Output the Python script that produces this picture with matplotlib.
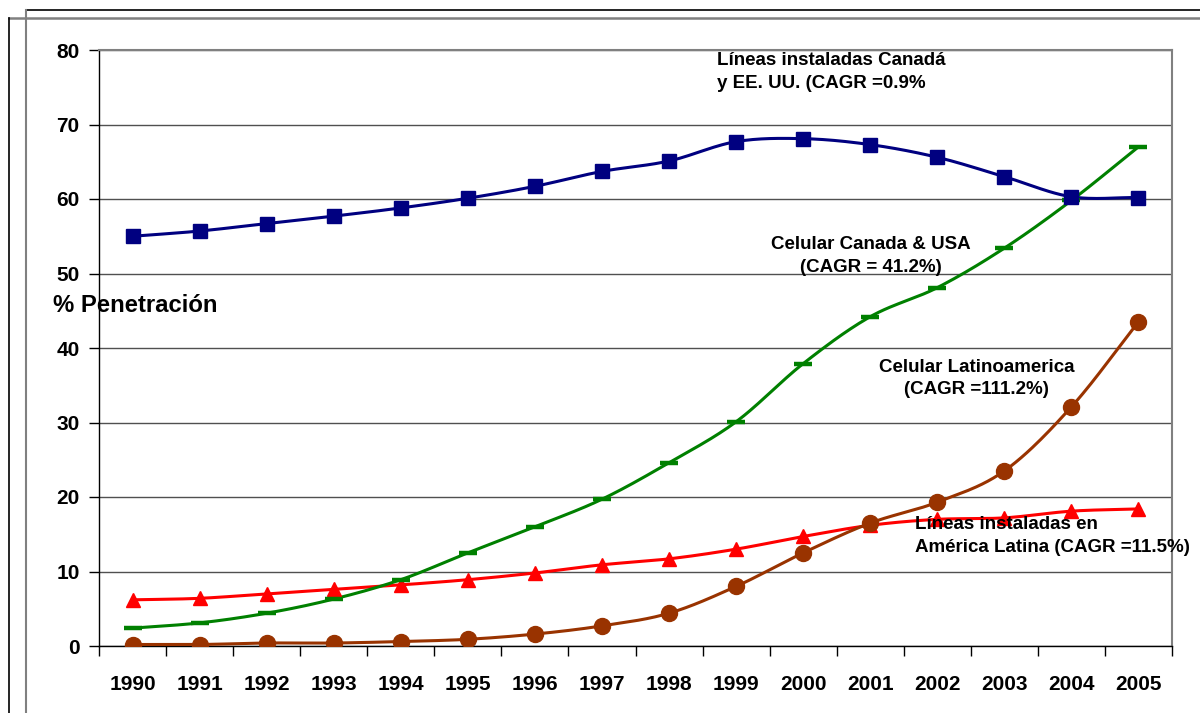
import matplotlib
matplotlib.use("Agg")
import matplotlib.pyplot as plt
import numpy as np
from matplotlib.lines import Line2D

plt.rcParams['font.family'] = ['Liberation Sans', 'DejaVu Sans']
plt.rcParams['font.weight'] = 'bold'

years = [str(y) for y in range(1990, 2006)]

# penetration, %
lineas_can_usa = [55.0, 55.7, 56.7, 57.7, 58.8, 60.1, 61.7, 63.7, 65.1, 67.7,
                  68.1, 67.3, 65.6, 63.0, 60.3, 60.2]
celular_can_usa = [2.4, 3.1, 4.4, 6.3, 8.9, 12.5, 16.0, 19.7, 24.6, 30.1,
                   37.9, 44.2, 48.1, 53.4, 59.8, 67.0]
celular_latam = [0.2, 0.2, 0.4, 0.4, 0.6, 0.9, 1.6, 2.7, 4.4, 8.0,
                 12.5, 16.5, 19.3, 23.5, 32.1, 43.5]
lineas_latam = [6.2, 6.4, 7.0, 7.6, 8.2, 8.9, 9.8, 10.9, 11.7, 13.0,
                14.7, 16.2, 17.0, 17.2, 18.1, 18.4]


def smooth(y, n=24):
    # Catmull-Rom curve through the points, like Excel's smoothed line
    y = np.asarray(y, dtype=float)
    x = np.arange(len(y), dtype=float)
    p = np.concatenate([[2 * y[0] - y[1]], y, [2 * y[-1] - y[-2]]])
    xs, ys = [], []
    t = np.linspace(0, 1, n, endpoint=False)
    for i in range(len(y) - 1):
        p0, p1, p2, p3 = p[i], p[i + 1], p[i + 2], p[i + 3]
        seg = 0.5 * ((2 * p1) + (-p0 + p2) * t +
                     (2 * p0 - 5 * p1 + 4 * p2 - p3) * t ** 2 +
                     (-p0 + 3 * p1 - 3 * p2 + p3) * t ** 3)
        xs.append(x[i] + t)
        ys.append(seg)
    xs.append([x[-1]])
    ys.append([y[-1]])
    return np.concatenate(xs), np.concatenate(ys)


fig = plt.figure(figsize=(12, 7.13), dpi=100)
ax = fig.add_axes([99 / 1200, 67 / 713, 1073 / 1200, 596 / 713])

xi = np.arange(len(years))
series = [
    (lineas_latam, '#FF0000', dict(marker='^', markersize=10.5)),
    (celular_latam, '#993300', dict(marker='o', markersize=11.5)),
    (celular_can_usa, '#008000', dict(marker='_', markersize=12.5, markeredgewidth=3.2)),
    (lineas_can_usa, '#000080', dict(marker='s', markersize=9.5)),
]
for vals, col, mk in series:
    sx, sy = smooth(vals)
    ax.plot(sx, sy, color=col, lw=2.2, solid_capstyle='round', zorder=3)
    ax.plot(xi, vals, linestyle='none', color=col, markeredgecolor=col, zorder=4, **mk)

ax.set_xlim(-0.5, 15.5)
ax.set_ylim(0, 80)
ax.set_yticks(range(0, 81, 10))
ax.set_xticks(xi)
ax.set_xticklabels(years)
ax.set_xticks(np.arange(-0.5, 16, 1), minor=True)
ax.tick_params(axis='x', which='major', length=0, pad=21, labelsize=15)
ax.tick_params(axis='x', which='minor', length=7, width=1, direction='out', color='black')
ax.tick_params(axis='y', length=7, width=1, direction='out', pad=7, labelsize=15)
ax.grid(axis='y', color='#505050', lw=1, zorder=1)

for s in ('top', 'right'):
    ax.spines[s].set_color('#808080')
    ax.spines[s].set_linewidth(1.5)
for s in ('left', 'bottom'):
    ax.spines[s].set_color('black')
    ax.spines[s].set_linewidth(1)

txt = dict(fontsize=13.5, fontweight='bold', zorder=6, linespacing=1.45)
ax.text(8.72, 77.1, 'Líneas instaladas Canadá\ny EE. UU. (CAGR =0.9%',
        ha='left', va='center', **txt)
ax.text(11.01, 52.4, 'Celular Canada & USA\n(CAGR = 41.2%)',
        ha='center', va='center', multialignment='center', **txt)
ax.text(12.59, 35.9, 'Celular Latinoamerica\n(CAGR =111.2%)',
        ha='center', va='center', multialignment='center', **txt)
ax.text(11.67, 14.77, 'Líneas instaladas en\nAmérica Latina (CAGR =11.5%)',
        ha='left', va='center', clip_on=False, **txt)
ax.text(-1.186, 45.77, '% Penetración', ha='left', va='center',
        fontsize=17.2, fontweight='bold', clip_on=False, zorder=6)


# outer chart frames
def frame_line(xs, ys, color, lw):
    fig.add_artist(Line2D([x / 1200 for x in xs], [1 - y / 713 for y in ys],
                          color=color, lw=lw, transform=fig.transFigure))


frame_line([26, 1200], [10, 10], 'black', 1.2)
frame_line([26, 26], [10, 713], '#808080', 1.5)
frame_line([9, 1200], [17.5, 17.5], '#808080', 1.8)
frame_line([9, 9], [17.5, 713], 'black', 1.2)

fig.savefig('out.png', dpi=100)
